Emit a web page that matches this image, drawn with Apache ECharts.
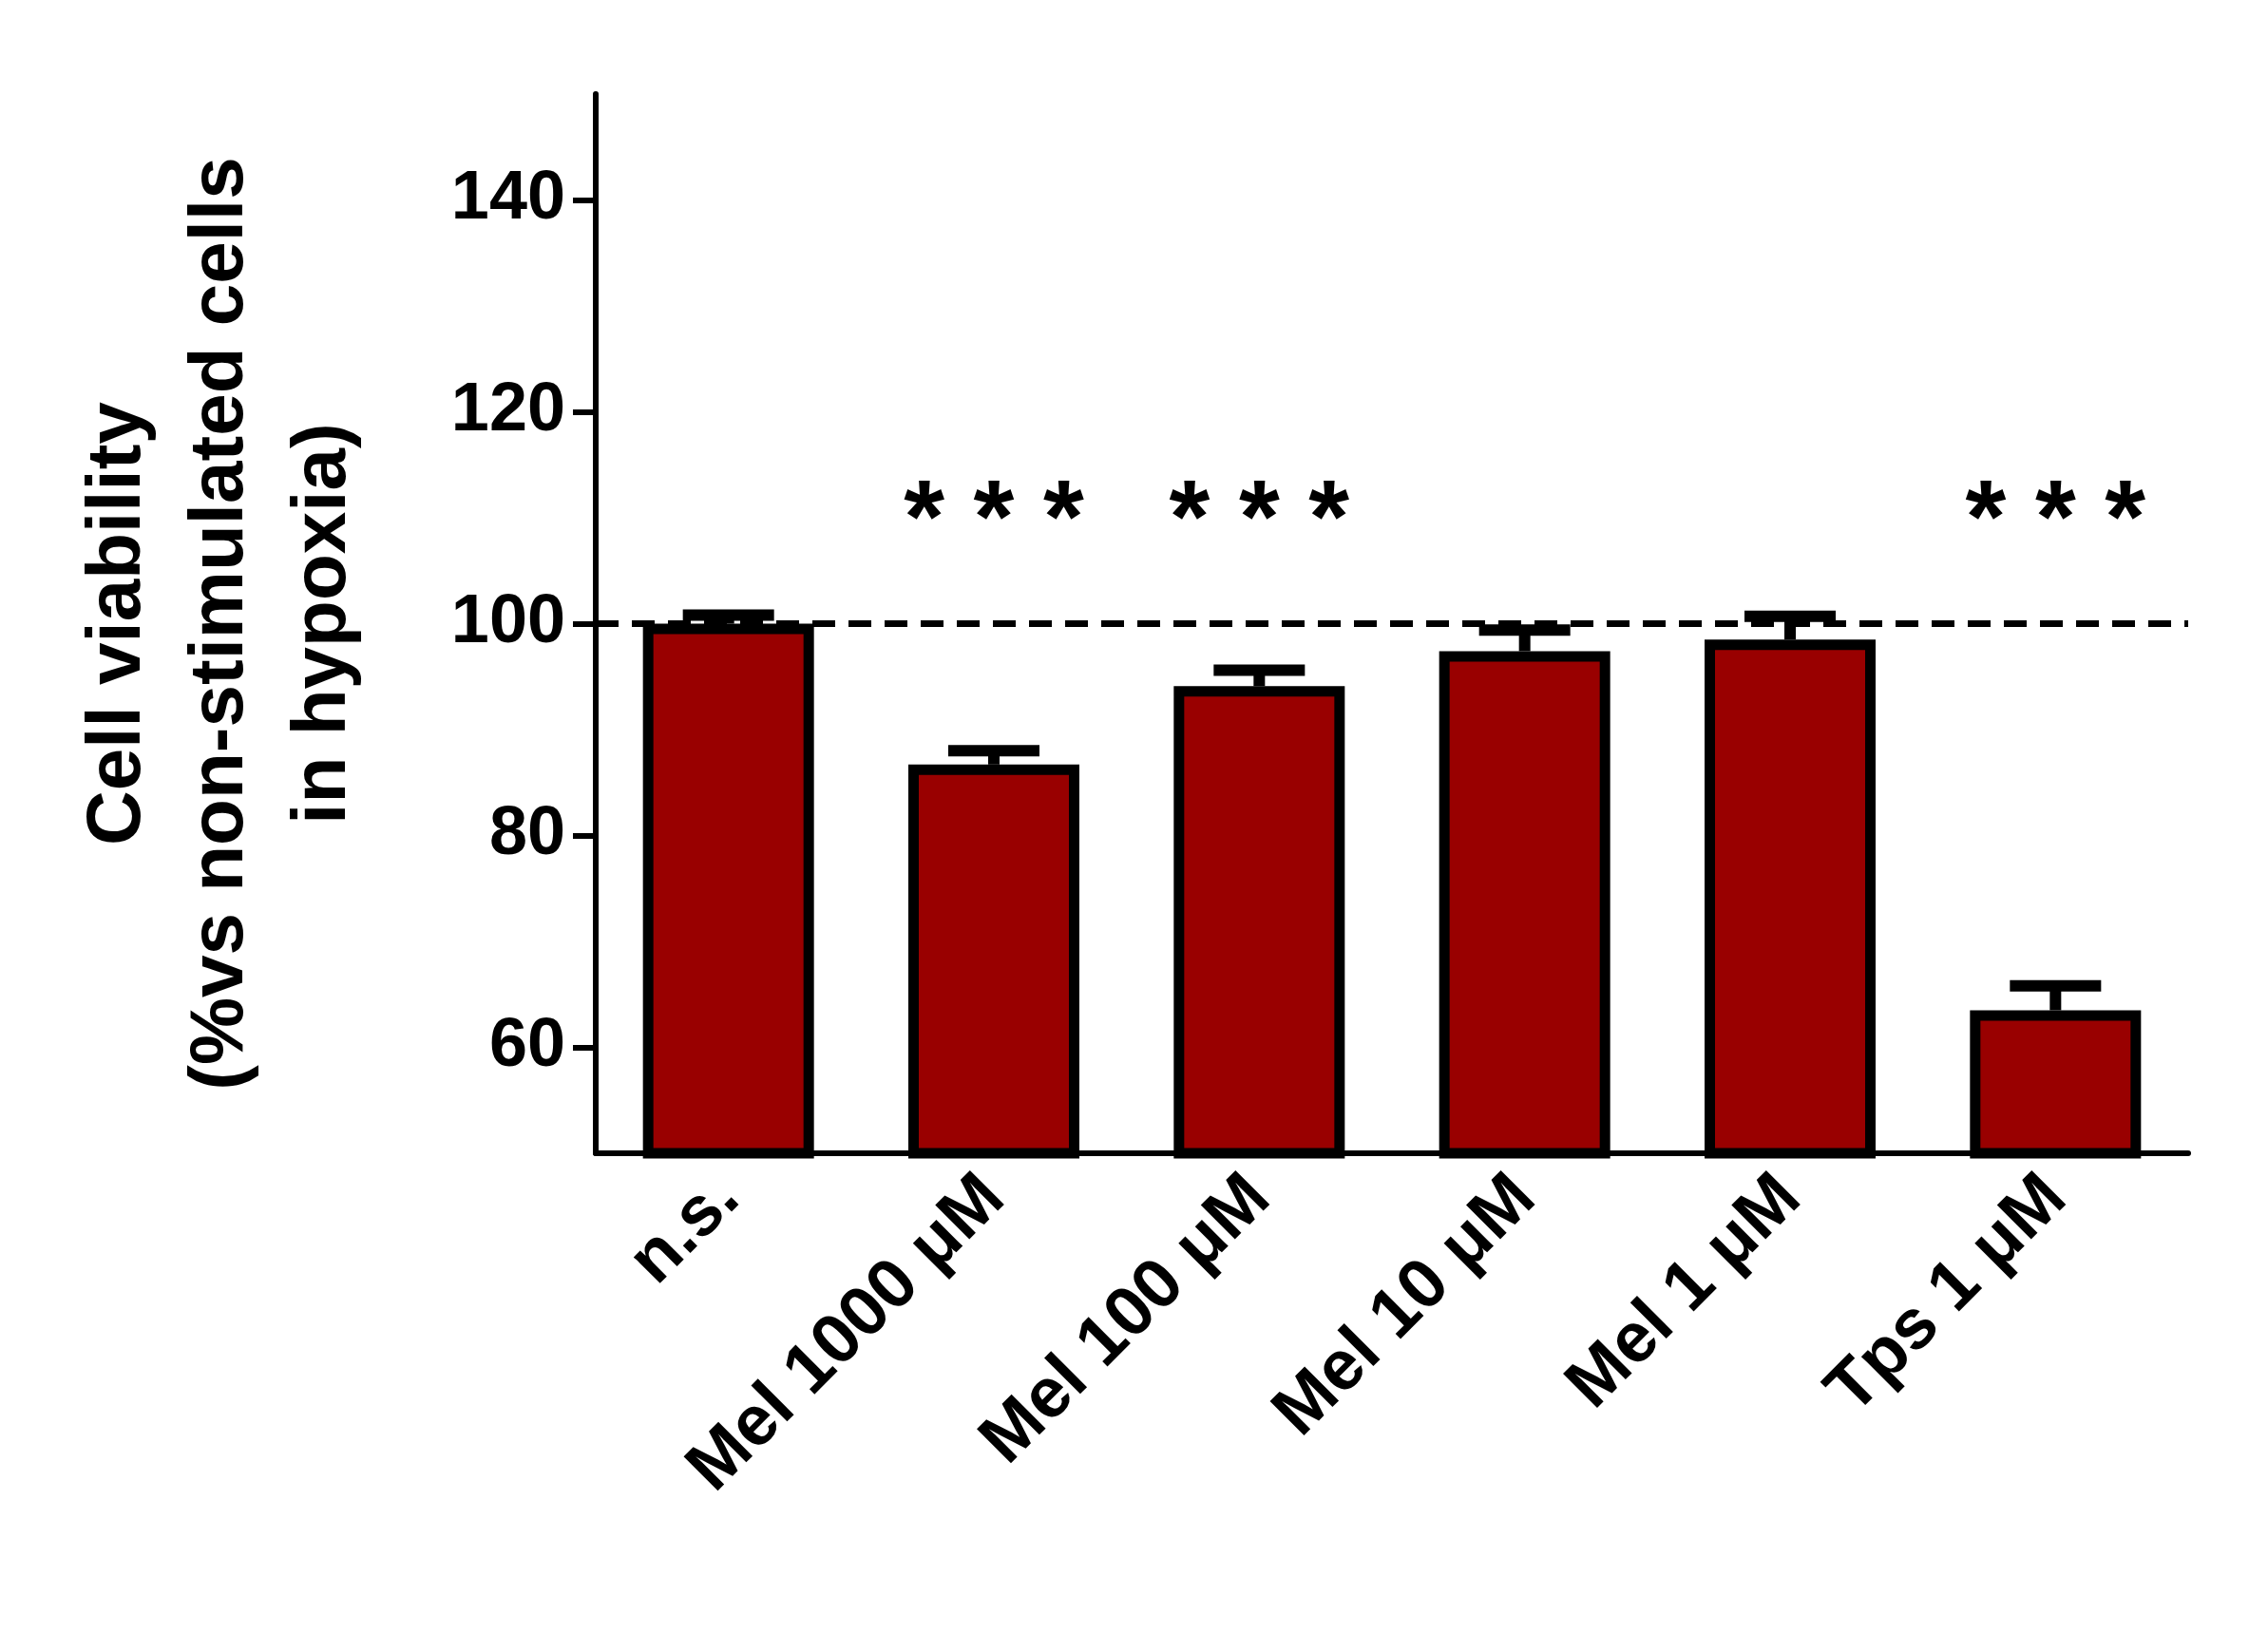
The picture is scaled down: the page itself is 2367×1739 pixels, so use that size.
<!DOCTYPE html>
<html>
<head>
<meta charset="utf-8">
<script src="https://cdn.jsdelivr.net/npm/echarts@6/dist/echarts.min.js"></script>
<style>html,body{margin:0;padding:0;background:#fff}#chart{width:2367px;height:1739px}</style>
</head>
<body>
<div id="chart"></div>
<script>
// data
const categories = ['n.s.', 'Mel 1000 μM', 'Mel 100 μM', 'Mel 10 μM', 'Mel 1 μM', 'Tps 1 μM']
const means = [100, 86.7, 94.1, 97.4, 98.5, 63.5]
const errors = [0.8, 1.3, 1.5, 2.0, 2.2, 2.3]
const stars = ['', '* * *', '* * *', '', '', '* * *']
const yTicks = [60, 80, 100, 120, 140]

const font = 'Liberation Sans, Arial, sans-serif'
const chart = echarts.init(document.getElementById('chart'))

chart.setOption({
  animation: false,
  grid: { left: 627, right: 64, top: 99, bottom: 525 },
  xAxis: {
    type: 'category',
    data: categories,
    axisLine: { lineStyle: { color: '#000', width: 6 } },
    axisTick: { alignWithLabel: true, length: 24, lineStyle: { color: '#000', width: 6 } },
    axisLabel: { rotate: 45, margin: 36, color: '#000', fontSize: 74, fontWeight: 'bold', fontFamily: font }
  },
  yAxis: {
    type: 'value',
    min: 50,
    max: 150,
    name: 'Cell viability\n(%vs non-stimulated cells\nin hypoxia)',
    nameLocation: 'middle',
    nameGap: 232,
    nameTextStyle: { color: '#000', fontSize: 80, fontWeight: 'bold', fontFamily: font, lineHeight: 108 },
    splitLine: { show: false },
    axisLine: { show: true, lineStyle: { color: '#000', width: 6 } },
    axisTick: { show: true, length: 24, customValues: yTicks, lineStyle: { color: '#000', width: 6 } },
    axisLabel: { customValues: yTicks, margin: 32, color: '#000', fontSize: 72, fontWeight: 'bold', fontFamily: font }
  },
  series: [
    {
      type: 'bar',
      data: means,
      barWidth: 180,
      itemStyle: { color: '#990000', borderColor: '#000', borderWidth: 11 },
      markLine: {
        symbol: 'none',
        silent: true,
        label: { show: false },
        lineStyle: { color: '#000', width: 7, type: [24, 14] },
        data: [{ yAxis: 100 }]
      }
    },
    {
      type: 'custom',
      z: 1,
      data: means.map((m, i) => [i, m, errors[i]]),
      renderItem: (params, api) => {
        const top = api.coord([api.value(0), api.value(1) + api.value(2)])
        const base = api.coord([api.value(0), api.value(1)])
        const hw = 48
        const st = { stroke: '#000', lineWidth: 12 }
        return {
          type: 'group',
          children: [
            { type: 'line', shape: { x1: top[0], y1: top[1], x2: base[0], y2: base[1] }, style: st },
            { type: 'line', shape: { x1: top[0] - hw, y1: top[1], x2: top[0] + hw, y2: top[1] }, style: st }
          ]
        }
      }
    },
    {
      type: 'custom',
      data: stars.map((s, i) => [i, 109.5]),
      renderItem: (params, api) => {
        const p = api.coord([api.value(0), api.value(1)])
        return {
          type: 'text',
          x: p[0],
          y: p[1],
          style: {
            text: stars[params.dataIndex],
            fill: '#000',
            font: 'bold 110px ' + font,
            align: 'center',
            verticalAlign: 'middle'
          }
        }
      }
    }
  ]
})
</script>
</body>
</html>
